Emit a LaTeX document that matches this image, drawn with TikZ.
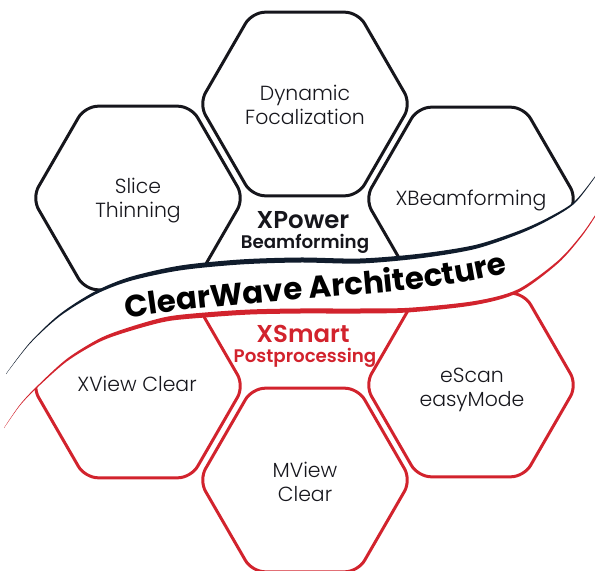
\documentclass[tikz,border=0pt]{standalone}
\usepackage{fontspec}
\setmainfont{Poppins}[UprightFont=* Light, BoldFont=* SemiBold]
\newfontfamily\wavefont{Poppins}[UprightFont=* Bold]
\usetikzlibrary{shapes.geometric,decorations.text}

\definecolor{cwblack}{RGB}{22,22,28}
\definecolor{cwnavy}{RGB}{16,28,44}
\definecolor{cwred}{RGB}{210,35,45}

\tikzset{
  hexcell/.style={regular polygon, regular polygon sides=6, minimum size=212bp,
    inner sep=0pt, line width=3bp, rounded corners=13bp},
  celltext/.style={align=center, inner sep=0pt, text=cwblack,
    font=\fontsize{20.5}{24}\selectfont},
  powertext/.style={inner sep=0pt, font=\bfseries\fontsize{24.5}{24.5}\selectfont},
  powersub/.style={inner sep=0pt, font=\bfseries\fontsize{18.3}{18.3}\selectfont}
}

\begin{document}
\begin{tikzpicture}[x=1bp, y=-1bp]
\useasboundingbox (0,0) rectangle (595,571);

% upper cells, cut at the dark line
\begin{scope}
\clip (-10,-10) -- (-10,374) -- plot[smooth] coordinates {(6,374) (30,343) (60,315) (95,293) (130,279) (180,268) (240,262) (300,260) (360,261) (420,256) (475,247) (520,232) (550,218) (575,202) (597,174)} -- (610,174) -- (610,-10) -- cycle;
\node[hexcell, draw=cwblack] (dynhex) at (305,104) {};
\node[hexcell, draw=cwblack] (slicehex) at (138,198) {};
\node[hexcell, draw=cwblack] (xbeamhex) at (471,199) {};
\end{scope}

% lower cells, cut at the red line
\begin{scope}
\clip (-10,428) -- plot[smooth] coordinates {(4,428) (20,405) (37,387) (67,360) (100,340) (130,329) (167,319) (205,315) (250,312) (300,311) (360,311) (410,310) (475,303) (518,291) (558,262) (582,235) (597,213)} -- (610,213) -- (610,600) -- (-10,600) -- cycle;
\node[hexcell, draw=cwred] (xviewhex) at (138,386) {};
\node[hexcell, draw=cwred] (escanhex) at (471,385) {};
\node[hexcell, draw=cwred] (mviewhex) at (305,480) {};
\end{scope}

% the wave
\fill[cwnavy] plot[smooth] coordinates {(6,373.8) (30,342.4) (60,313.9) (95,291.4) (130,277) (180,265.6) (240,259.5) (300,257.5) (360,258.5) (420,253.7) (475,245) (520,230.4) (550,216.7) (575,201) (597,173.5)}
  -- plot[smooth] coordinates {(597,174.5) (575,203) (550,219.3) (520,233.6) (475,249) (420,258.3) (360,263.5) (300,262.5) (240,264.5) (180,270.4) (130,281) (95,294.6) (60,316.1) (30,343.6) (6,374.2)} -- cycle;
\fill[cwred] plot[smooth] coordinates {(4,427.8) (20,404.5) (37,386.2) (67,358.7) (100,338.3) (130,327) (167,316.7) (205,312.5) (250,309.5) (300,308.5) (360,308.5) (410,307.7) (475,301) (518,289.3) (558,260.7) (582,234) (597,212.2)}
  -- plot[smooth] coordinates {(597,213.8) (582,236) (558,263.3) (518,292.7) (475,305) (410,312.3) (360,313.5) (300,313.5) (250,314.5) (205,317.5) (167,321.3) (130,331) (100,341.7) (67,361.3) (37,387.8) (20,405.5) (4,428.2)} -- cycle;
\path[decorate, decoration={text along path, text align=center,
    text={|\wavefont\fontsize{31}{31}\selectfont|ClearWave Architecture}}]
  (110,321) .. controls (250,295) and (420,301) .. (524,268);

% labels
\node[celltext] (dyntext) at (305,105) {Dynamic\\Focalization};
\node[celltext] (slicetext) at (138,201) {Slice\\Thinning};
\node[celltext] (xbeamtext) at (471,200.5) {XBeamforming};
\node[celltext] (xviewtext) at (137,384) {XView Clear};
\node[celltext] (escantext) at (472,390) {eScan\\easyMode};
\node[celltext] (mviewtext) at (305,482) {MView\\Clear};

\node[powertext, text=cwblack, anchor=base] (xpower) at (303,228) {XPower};
\node[powersub, text=cwblack, anchor=base] (xpowersub) at (305,248) {Beamforming};
\node[powertext, text=cwred, anchor=base] (xsmart) at (303,342) {XSmart};
\node[powersub, text=cwred, anchor=base] (xsmartsub) at (305,362) {Postprocessing};
\end{tikzpicture}
\end{document}
